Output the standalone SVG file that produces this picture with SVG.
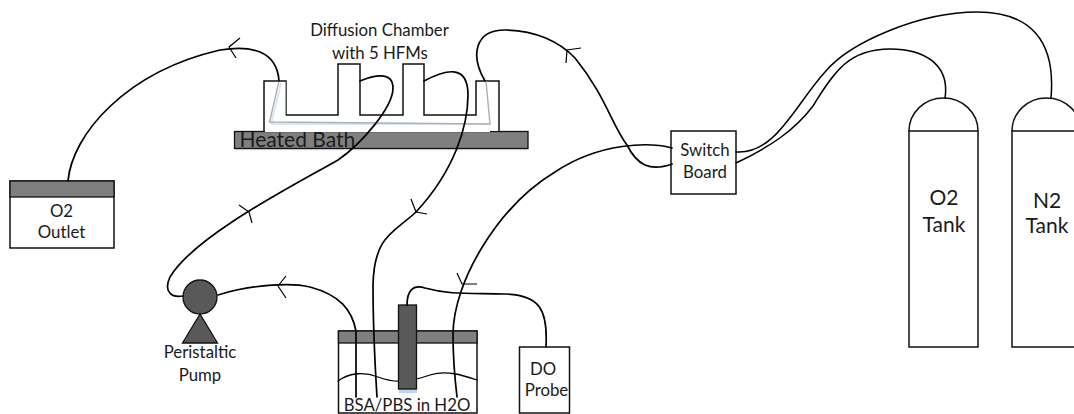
<svg xmlns="http://www.w3.org/2000/svg" width="1074" height="414" viewBox="0 0 1074 414">
<style>
.box{fill:#fff;stroke:#111;stroke-width:1.5}
.band{fill:#7f7f7f;stroke:#111;stroke-width:1.3}
.dark{fill:#595959;stroke:#111;stroke-width:1.3}
.wire{fill:none;stroke:#000;stroke-width:1.7;stroke-linecap:round}
.tick{fill:none;stroke:#000;stroke-width:1.2}
.gray{fill:none;stroke:#b0b0b0;stroke-width:1.4}
.shadow{fill:none;stroke:#dbe6f4;stroke-width:2}
text{font-family:Lato,"Open Sans",sans-serif;font-size:16.8px;fill:#1a1a1a;text-anchor:middle}
.big{font-size:21px}
</style>
<rect width="1074" height="414" fill="#fff"/>
<g id="heated-bath">
<rect x="235" y="148.5" width="293" height="2" fill="#e3ebf6"/>
<rect class="band" x="234.500" y="131.500" width="293.500" height="17"/>
<text class="big" x="239.500" y="146.500" style="text-anchor:start">Heated Bath</text>
</g>
<g id="diffusion-chamber">
<path class="box" d="M264 131V81H286V115H338V64H360V115H403V64H424V115H476V81H499V131"/>
<rect x="265" y="116" width="225" height="16" fill="#fff"/>
<rect x="265" y="82" width="20.500" height="50" fill="#fff"/>
<rect x="477" y="82" width="21" height="48.500" fill="#fff"/>
<path class="shadow" d="M271 124L281 83M271 124H490"/>
<path class="gray" d="M279 81L269.500 122L490 124L486 81"/>
<text x="379.500" y="36">Diffusion Chamber</text>
<text x="380" y="59">with 5 HFMs</text>
</g>
<g id="o2-outlet">
<rect class="box" x="10" y="181" width="104" height="67"/>
<rect class="band" x="10" y="181" width="104" height="16"/>
<text x="61.500" y="217">O2</text>
<text x="61.500" y="238">Outlet</text>
</g>
<g id="peristaltic-pump">
<circle class="dark" cx="200" cy="297" r="17"/>
<path class="dark" d="M200 314L182.500 343H217.500Z"/>
<text x="200" y="358">Peristaltic</text>
<text x="200" y="381">Pump</text>
</g>
<g id="bsa-pbs-container">
<rect class="box" x="338.500" y="331" width="138.500" height="82"/>
<rect class="band" x="338.500" y="331" width="138.500" height="12"/>
<path class="wire" style="stroke-width:1.3" d="M338 381C350 372 365 372 378 377C398 385 415 380 430 375C447 370 462 375 477 380"/>
<text x="407" y="411">BSA/PBS in H2O</text>
</g>
<g id="do-probe">
<rect class="box" x="519.500" y="347" width="50" height="66"/>
<text x="543" y="375">DO</text>
<text x="546.500" y="396">Probe</text>
</g>
<g id="probe-rod">
<rect x="399" y="389" width="18" height="4" fill="#bcd6f2"/>
<rect class="dark" x="398.500" y="305" width="18" height="84"/>
</g>
<g id="switch-board">
<rect class="box" x="671" y="131" width="65" height="63"/>
<text x="705" y="156">Switch</text>
<text x="705" y="178">Board</text>
</g>
<g id="o2-tank">
<path class="box" d="M909 131A34.500 33 0 0 1 978 131"/>
<rect class="box" x="909" y="131" width="69" height="216"/>
<text class="big" x="944" y="205">O2</text>
<text class="big" x="944" y="232">Tank</text>
</g>
<g id="n2-tank">
<path class="box" d="M1012 131A34.500 33 0 0 1 1081 131"/>
<rect class="box" x="1012" y="131" width="69" height="216"/>
<text class="big" x="1047" y="208">N2</text>
<text class="big" x="1047" y="233">Tank</text>
</g>
<g id="connectors">
<path class="wire" d="M68 181C72 135 125 72 220 50C250 45 277 50 279 81"/>
<path class="wire" d="M360 81C372 76 393 70 393 88C393 108 360 145 338 160C300 182 195 235 170 277C163 292 172 298 183 296"/>
<path class="wire" d="M424 81C445 70 468 63 468 95C468 125 455 170 416 212C395 232 374 235 373 285C373 330 375 365 377 397"/>
<path class="wire" d="M485 81C470 55 475 30 505 30C535 30 560 42 575 58C605 95 612 125 627 145C637 165 650 172 672 164"/>
<path class="wire" d="M672 148C650 142 600 142 555 172C500 205 453 280 453 335C453 360 455 380 457 397"/>
<path class="wire" d="M218 295C250 285 290 282 310 287C340 295 352 310 356 331V397"/>
<path class="wire" d="M546 347C548 310 540 295 505 294C470 293 450 295 425 288C412 284 407 292 407 305"/>
<path class="wire" d="M736 152C775 155 795 105 825 72C850 42 920 12 977 12C1030 12 1056 40 1051 98" style="stroke-width:1.5"/>
<path class="wire" d="M736 163C770 147 795 130 813 106C835 70 850 49 890 49C925 49 950 65 945 98" style="stroke-width:1.5"/>
<path class="tick" d="M240 38L229 47L236 58"/>
<path class="tick" d="M239 205L249 212L252 223"/>
<path class="tick" d="M286 276L278 286L286 298"/>
<path class="tick" d="M411 199L416 212L427 214"/>
<path class="tick" d="M457 273L462 284H477"/>
<path class="tick" d="M581 48L567 50L566 63"/>
</g>
</svg>
